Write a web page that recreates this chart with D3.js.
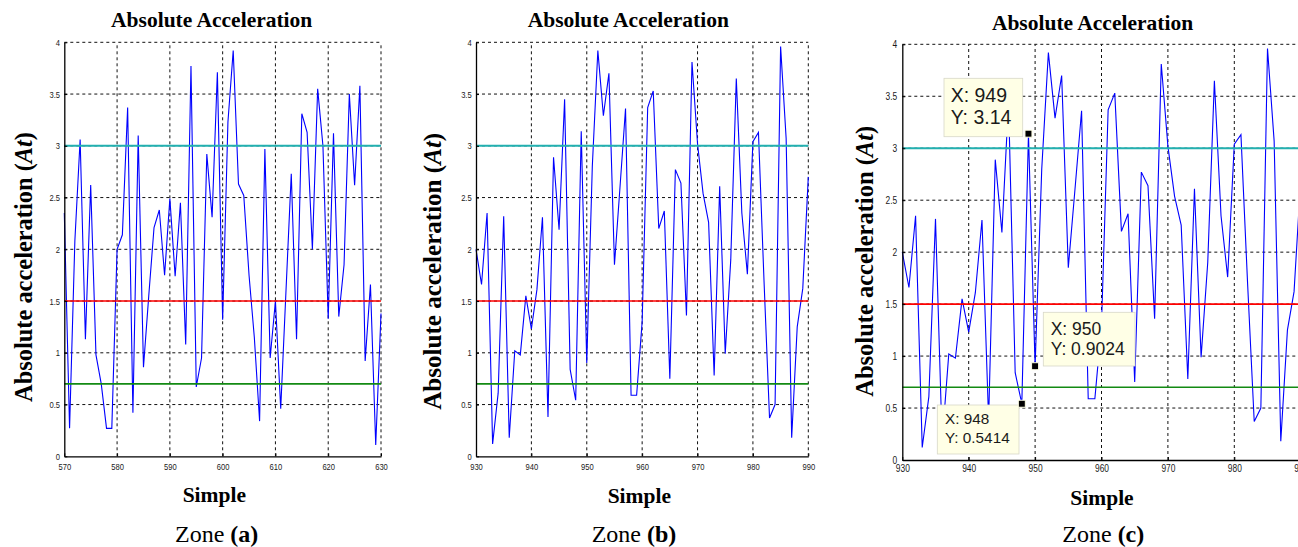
<!DOCTYPE html>
<html><head><meta charset="utf-8">
<script src="https://cdn.jsdelivr.net/npm/d3@7"></script>
<style>body{margin:0;background:#fff;overflow:hidden} svg{display:block}</style>
</head><body>
<svg id="chart" width="1298" height="547"></svg>
<script>
// ---------- data ----------
const zoneAStart = 570;
const zoneAValues = [
  2.35, 0.27, 2.08, 3.06, 1.13, 2.62, 0.98, 0.70, 0.27, 0.27,
  2.00, 2.14, 3.37, 0.42, 3.10, 0.86, 1.55, 2.21, 2.38, 1.75,
  2.49, 1.74, 2.45, 1.08, 3.77, 0.67, 0.95, 2.92, 2.31, 3.71,
  1.32, 3.23, 3.92, 2.63, 2.52, 1.75, 1.15, 0.34, 2.97, 0.95,
  1.50, 0.46, 1.60, 2.73, 1.13, 3.31, 3.13, 2.00, 3.55, 3.00,
  1.33, 3.12, 1.35, 1.85, 3.50, 2.62, 3.58, 0.92, 1.66, 0.11,
  1.38
];
const zoneBStart = 930;
const zoneBValues = [
  2.00, 1.66, 2.35, 0.12, 0.61, 2.32, 0.18, 1.02, 0.98, 1.55,
  1.23, 1.61, 2.31, 0.38, 2.89, 2.19, 3.45, 0.84, 0.5414, 3.14,
  0.9024, 2.80, 3.92, 3.29, 3.70, 1.85, 2.60, 3.36, 0.59, 0.59,
  1.30, 3.37, 3.53, 2.20, 2.37, 0.75, 2.77, 2.64, 1.36, 3.81,
  3.02, 2.54, 2.26, 0.78, 2.61, 0.99, 1.90, 3.65, 2.35, 1.76,
  3.04, 3.13, 1.70, 0.37, 0.50, 3.96, 3.07, 0.18, 1.25, 1.62,
  2.70
];
const xTicksA = [570, 580, 590, 600, 610, 620, 630];
const xTicksB = [930, 940, 950, 960, 970, 980, 990];
const yTicks = [0, 0.5, 1, 1.5, 2, 2.5, 3, 3.5, 4];
const thresholdValues = [3, 1.5, 0.7];
const thresholdColors = ["#22B0B0", "#FF0000", "#138A13"];
const datatipX = [949, 950, 948];
const datatipY = [3.14, 0.9024, 0.5414];
const panelLetters = ["a", "b", "c"];
const chartTitle = "Absolute Acceleration";
const xLabel = "Simple";
const yLabelMain = "Absolute acceleration (";
const yLabelItalic = "At";

// ---------- layout ----------
const panels = [
  {start: zoneAStart, values: zoneAValues, ticks: xTicksA,
   x0: 64.3, x1: 381, y0: 42.3, y1: 456.3, tickFont: 9.5, xPad: 6.5, yGap: 4.3,
   title: [211.7, 27.3], simple: [214.3, 501.7], zone: [216.7, 541.5], ylab: [31.7, 267, 270]},
  {start: zoneBStart, values: zoneBValues, ticks: xTicksB,
   x0: 476, x1: 808.3, y0: 42.3, y1: 456.3, tickFont: 9.5, xPad: 6.5, yGap: 4.3,
   title: [628.3, 27.3], simple: [639.3, 503], zone: [634, 541.5], ylab: [441, 271.3, 277]},
  {start: zoneBStart, values: zoneBValues, ticks: xTicksB,
   x0: 902.3, x1: 1300.7, y0: 44.3, y1: 460, tickFont: 10.5, xPad: 4.5, yGap: 5,
   title: [1092.5, 30], simple: [1102, 505], zone: [1103.3, 541.5], ylab: [873, 261.3, 271]}
];

const tipBoxes = [
  {x: 944, y: 78.3, w: 78.7, h: 58.4, tx: 950.7, b1: 101.7, b2: 124, fs: 19.5},
  {x: 1043.3, y: 312.3, w: 91.7, h: 53.7, tx: 1050.7, b1: 335, b2: 355, fs: 17.5},
  {x: 937.3, y: 405, w: 81.7, h: 49, tx: 945, b1: 424.3, b2: 443.3, fs: 15.3}
];

const svg = d3.select("#chart");
const serif = "'Liberation Serif','Times New Roman',Times,serif";
const sans = "'Liberation Sans',Arial,Helvetica,sans-serif";
const cond = 0.8;

panels.forEach((p, pi) => {
  const g = svg.append("g");
  const x = d3.scaleLinear().domain([p.start, p.start + 60]).range([p.x0, p.x1]);
  const y = d3.scaleLinear().domain([0, 4]).range([p.y1, p.y0]);

  // grid
  g.append("g").selectAll("line").data(p.ticks.slice(1)).join("line")
    .attr("x1", d => x(d)).attr("x2", d => x(d))
    .attr("y1", y(0)).attr("y2", y(4))
    .attr("stroke", "#111").attr("stroke-width", 1).attr("stroke-dasharray", "3,3");
  g.append("g").selectAll("line").data(yTicks.slice(1)).join("line")
    .attr("x1", x(p.start)).attr("x2", x(p.start + 60))
    .attr("y1", d => y(d)).attr("y2", d => y(d))
    .attr("stroke", "#111").attr("stroke-width", 1).attr("stroke-dasharray", "3,3");

  // data line
  const pts = p.values.map((v, i) => [p.start + i, v]);
  g.append("path").datum(pts)
    .attr("fill", "none").attr("stroke", "#0000FF").attr("stroke-width", 1.1)
    .attr("stroke-linejoin", "miter")
    .attr("d", d3.line().x(d => x(d[0])).y(d => y(d[1])));

  // thresholds
  g.append("g").selectAll("line").data(thresholdValues).join("line")
    .attr("x1", x(p.start)).attr("x2", x(p.start + 60))
    .attr("y1", d => y(d)).attr("y2", d => y(d))
    .attr("stroke", (d, i) => thresholdColors[i])
    .attr("stroke-width", (d, i) => i === 0 ? 2 : 1.6);

  // axes
  const ax = g.append("g").attr("transform", `translate(0,${y(0)})`)
    .call(d3.axisBottom(x).tickValues(p.ticks).tickSizeInner(-3).tickSizeOuter(0)
      .tickPadding(p.xPad).tickFormat(d3.format("d")));
  const ay = g.append("g").attr("transform", `translate(${x(p.start)},0)`)
    .call(d3.axisLeft(y).tickValues(yTicks).tickSizeInner(-3).tickSizeOuter(0)
      .tickFormat(d3.format("~g")));
  [ax, ay].forEach(a => {
    a.select(".domain").attr("stroke", "#000").attr("stroke-width", 1.3);
    a.selectAll(".tick line").attr("stroke", "#000");
    a.selectAll("text").attr("font-family", sans).attr("font-size", p.tickFont)
      .attr("fill", "#1a1a1a").attr("transform", `scale(${cond},1)`);
  });
  ay.selectAll("text").attr("x", -p.yGap / cond);

  // title
  g.append("text").attr("x", p.title[0]).attr("y", p.title[1])
    .attr("text-anchor", "middle").attr("font-family", serif)
    .attr("font-weight", "bold").attr("font-size", 21.5).text(chartTitle);
  // x label
  g.append("text").attr("x", p.simple[0]).attr("y", p.simple[1])
    .attr("text-anchor", "middle").attr("font-family", serif)
    .attr("font-weight", "bold").attr("font-size", 21.5).text(xLabel);
  // zone label
  const zt = g.append("text").attr("x", p.zone[0]).attr("y", p.zone[1])
    .attr("text-anchor", "middle").attr("font-family", serif).attr("font-size", 24);
  zt.append("tspan").text("Zone ");
  zt.append("tspan").attr("font-weight", "bold").text(`(${panelLetters[pi]})`);
  // y label
  const yt = g.append("text")
    .attr("transform", `translate(${p.ylab[0]},${p.ylab[1]}) rotate(-90)`)
    .attr("text-anchor", "middle").attr("font-family", serif)
    .attr("font-weight", "bold").attr("font-size", 25)
    .attr("textLength", p.ylab[2]).attr("lengthAdjust", "spacingAndGlyphs");
  yt.append("tspan").text(yLabelMain);
  yt.append("tspan").attr("font-style", "italic").text(yLabelItalic);
  yt.append("tspan").text(")");

  // datatips on panel (c)
  if (pi === 2) {
    const tg = g.append("g");
    datatipX.forEach((dx, k) => {
      const b = tipBoxes[k];
      tg.append("rect").attr("x", b.x).attr("y", b.y).attr("width", b.w).attr("height", b.h)
        .attr("fill", "#FFFFE6").attr("stroke", "#D8D8C8").attr("stroke-width", 0.8);
      tg.append("text").attr("x", b.tx).attr("y", b.b1).attr("font-family", sans)
        .attr("font-size", b.fs).attr("fill", "#1a1a1a").text(`X: ${dx}`);
      tg.append("text").attr("x", b.tx).attr("y", b.b2).attr("font-family", sans)
        .attr("font-size", b.fs).attr("fill", "#1a1a1a").text(`Y: ${datatipY[k]}`);
    });
    tg.selectAll("rect.marker").data(datatipX).join("rect").attr("class", "marker")
      .attr("x", d => x(d) - 3.5).attr("y", (d, k) => y(datatipY[k]) - 3.5)
      .attr("width", 7).attr("height", 7)
      .attr("fill", "#000").attr("stroke", "#FFFFE6").attr("stroke-width", 1);
  }
});
</script>
</body></html>
